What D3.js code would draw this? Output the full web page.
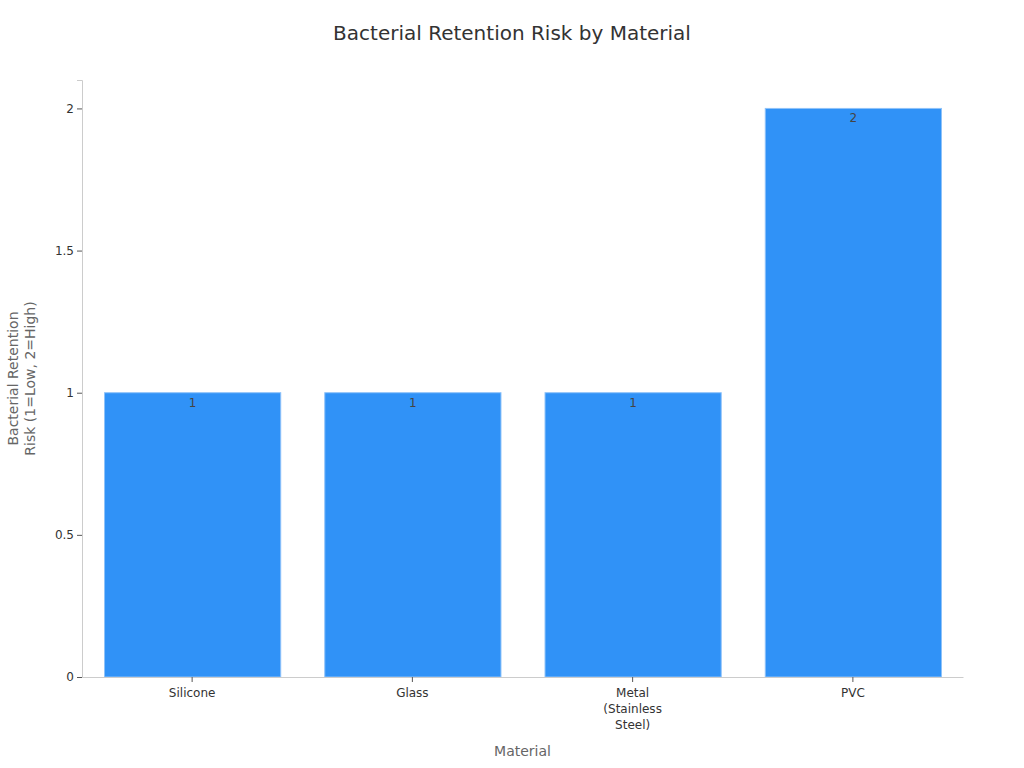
<!DOCTYPE html>
<html>
<head>
<meta charset="utf-8">
<script src="https://cdn.jsdelivr.net/npm/d3@7"></script>
<style>
  body { margin: 0; background: #fff; font-family: "DejaVu Sans", sans-serif; }
  svg text { font-family: "DejaVu Sans", sans-serif; }
</style>
</head>
<body>
<div id="chart"></div>
<script>
const materials = ['Silicone', 'Glass', 'Metal (Stainless Steel)', 'PVC'];
const tickLines = [['Silicone'], ['Glass'], ['Metal', '(Stainless', 'Steel)'], ['PVC']];
const riskValues = [1, 1, 1, 2];
const yTicks = [0, 0.5, 1, 1.5, 2];

const width = 1024;
const height = 768;
const margin = { top: 80, right: 61, bottom: 91, left: 82 };

const svg = d3.select('#chart')
  .append('svg')
  .attr('width', width)
  .attr('height', height);

const x = d3.scaleBand()
  .domain(materials)
  .range([margin.left, width - margin.right])
  .paddingInner(0.2)
  .paddingOuter(0.1);

const y = d3.scaleLinear()
  .domain([0, 2.1])
  .range([height - margin.bottom, margin.top]);

// title
svg.append('text')
  .attr('x', width / 2)
  .attr('y', 40)
  .attr('text-anchor', 'middle')
  .attr('font-size', 20)
  .attr('fill', '#333')
  .text('Bacterial Retention Risk by Material');

// bars
svg.append('g')
  .selectAll('rect')
  .data(materials)
  .enter()
  .append('rect')
  .attr('x', d => x(d) + 0.5)
  .attr('y', (d, i) => y(riskValues[i]))
  .attr('width', x.bandwidth())
  .attr('height', (d, i) => y(0) - y(riskValues[i]))
  .attr('fill', '#3092f7')
  .attr('stroke', '#8ec2f9')
  .attr('stroke-width', 1);

// value labels
svg.append('g')
  .selectAll('text')
  .data(materials)
  .enter()
  .append('text')
  .attr('x', d => x(d) + x.bandwidth() / 2 + 0.5)
  .attr('y', (d, i) => y(riskValues[i]) + 14)
  .attr('text-anchor', 'middle')
  .attr('font-size', 12)
  .attr('fill', '#444')
  .text((d, i) => riskValues[i]);

// y axis
const yAxis = svg.append('g')
  .attr('transform', `translate(${margin.left},0)`)
  .call(d3.axisLeft(y).tickValues(yTicks).tickSize(5).tickFormat(d3.format('')));
yAxis.select('.domain').attr('stroke', '#ccc');
yAxis.selectAll('.tick line').attr('stroke', '#555');
yAxis.selectAll('.tick text').attr('font-size', 12).attr('fill', '#333');

// x axis
const xAxis = svg.append('g')
  .attr('transform', `translate(0,${height - margin.bottom})`)
  .call(d3.axisBottom(x).tickSize(5).tickSizeOuter(0));
xAxis.select('.domain').attr('stroke', '#ccc');
xAxis.selectAll('.tick line').attr('stroke', '#555');
xAxis.selectAll('.tick text').remove();
xAxis.selectAll('.tick').each(function(d, i) {
  const t = d3.select(this).append('text')
    .attr('y', 20)
    .attr('text-anchor', 'middle')
    .attr('font-size', 12)
    .attr('fill', '#333');
  tickLines[i].forEach((line, j) => {
    t.append('tspan')
      .attr('x', 0)
      .attr('dy', j === 0 ? 0 : 16)
      .text(line);
  });
});

// axis titles
svg.append('text')
  .attr('x', (margin.left + width - margin.right) / 2)
  .attr('y', 756)
  .attr('text-anchor', 'middle')
  .attr('font-size', 14)
  .attr('fill', '#666')
  .text('Material');

const yTitle = svg.append('text')
  .attr('transform', `translate(18,${(margin.top + height - margin.bottom) / 2}) rotate(-90)`)
  .attr('text-anchor', 'middle')
  .attr('font-size', 14)
  .attr('fill', '#666');
yTitle.append('tspan').attr('x', 0).attr('dy', 0).text('Bacterial Retention');
yTitle.append('tspan').attr('x', 0).attr('dy', 17).text('Risk (1=Low, 2=High)');
</script>
</body>
</html>
